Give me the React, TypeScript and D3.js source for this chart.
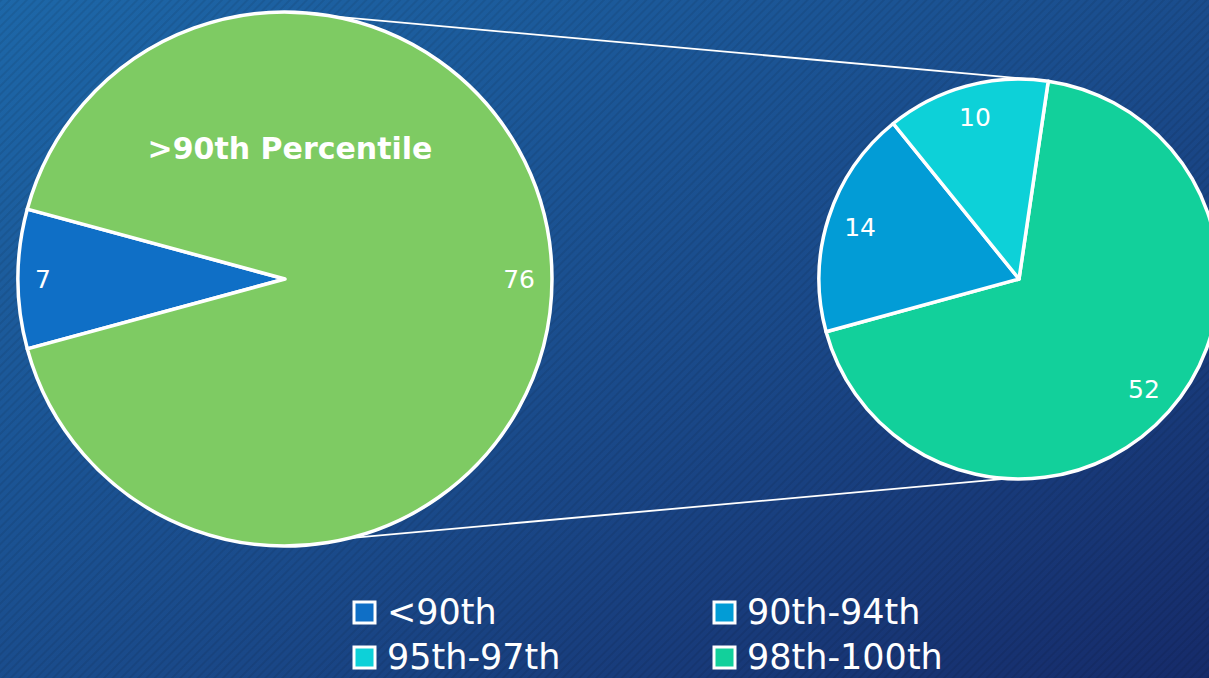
import * as d3 from "d3";

const primaryLabels = ["<90th", ">90th Percentile"];
const primaryValues = [7, 76];
const secondaryLabels = ["98th-100th", "90th-94th", "95th-97th"];
const secondaryValues = [52, 14, 10];
const legendLabels = ["<90th", "90th-94th", "95th-97th", "98th-100th"];
const legendColors = ["#0F6FC6", "#029CD6", "#0DD1D8", "#12D09B"];
const otherColor = "#7ECB63";

const W = 1209;
const H = 678;
const FONT = "'DejaVu Sans', Verdana, sans-serif";

const rad = (d: number) => (d * Math.PI) / 180;

export default function App() {
  const color = d3.scaleOrdinal<string, string>().domain(legendLabels).range(legendColors);

  // primary pie: small slice centered on the left
  const left = { cx: 285, cy: 279, r: 267 };
  const total1 = d3.sum(primaryValues);
  const start1 = (3 * Math.PI) / 2 - (primaryValues[0] / total1) * Math.PI;
  const pie1 = d3.pie<number>().sort(null).startAngle(start1).endAngle(start1 + 2 * Math.PI);
  const arcs1 = pie1(primaryValues);
  const arc1 = d3.arc<d3.PieArcDatum<number>>().innerRadius(0).outerRadius(left.r);
  const lab1 = d3.arc<d3.PieArcDatum<number>>().innerRadius(left.r - 17).outerRadius(left.r - 17);

  // secondary pie
  const right = { cx: 1019, cy: 279, r: 200 };
  const start2 = rad(8.4);
  const pie2 = d3.pie<number>().sort(null).startAngle(start2).endAngle(start2 + 2 * Math.PI);
  const arcs2 = pie2(secondaryValues);
  const arc2 = d3.arc<d3.PieArcDatum<number>>().innerRadius(0).outerRadius(right.r);
  const lab2 = d3.arc<d3.PieArcDatum<number>>().innerRadius(right.r * 0.835).outerRadius(right.r * 0.835);

  const onCircle = (c: { cx: number; cy: number; r: number }, deg: number) => [
    c.cx + c.r * Math.sin(rad(deg)),
    c.cy - c.r * Math.cos(rad(deg)),
  ];
  const connectors = [
    [onCircle(left, 10.3), onCircle(right, 6)],
    [onCircle(left, 166), onCircle(right, 183.4)],
  ];

  const legendPos = [
    [352, 612],
    [712, 612],
    [352, 657],
    [712, 657],
  ];

  return (
    <svg
      width={W}
      height={H}
      style={{ position: "fixed", left: 0, top: 0, display: "block" }}
      fontFamily={FONT}
    >
      <defs>
        <linearGradient id="bg" x1="0" y1="0" x2="1" y2="1">
          <stop offset="0" stopColor="#1D67A8" />
          <stop offset="0.55" stopColor="#1A4A8A" />
          <stop offset="1" stopColor="#162B6A" />
        </linearGradient>
        <pattern id="stripes" width="6" height="6" patternUnits="userSpaceOnUse" patternTransform="rotate(45)">
          <rect width="2" height="6" fill="#000" opacity="0.08" />
        </pattern>
      </defs>
      <rect width={W} height={H} fill="url(#bg)" />
      <rect width={W} height={H} fill="url(#stripes)" />

      {connectors.map((c, i) => (
        <line key={i} x1={c[0][0]} y1={c[0][1]} x2={c[1][0]} y2={c[1][1]} stroke="#fff" strokeWidth={1.8} />
      ))}

      <g transform={`translate(${left.cx},${left.cy})`}>
        {arcs1.map((a, i) => (
          <path
            key={i}
            d={arc1(a) || ""}
            fill={i === 0 ? color(primaryLabels[0]) : otherColor}
            stroke="#fff"
            strokeWidth={3.5}
            strokeLinejoin="round"
          />
        ))}
        {arcs1.map((a, i) => {
          const [x, y] = lab1.centroid(a);
          return (
            <text
              key={i}
              x={x}
              y={y}
              fill="#fff"
              fontSize={25}
              textAnchor={x < 0 ? "start" : "end"}
              dominantBaseline="central"
            >
              {a.data}
            </text>
          );
        })}
        <text x={5} y={-131} fill="#fff" fontSize={30} fontWeight="bold" textAnchor="middle" dominantBaseline="central">
          {primaryLabels[1]}
        </text>
      </g>

      <g transform={`translate(${right.cx},${right.cy})`}>
        {arcs2.map((a, i) => (
          <path
            key={i}
            d={arc2(a) || ""}
            fill={color(secondaryLabels[i])}
            stroke="#fff"
            strokeWidth={3.5}
            strokeLinejoin="round"
          />
        ))}
        {arcs2.map((a, i) => {
          const [x, y] = lab2.centroid(a);
          return (
            <text key={i} x={x} y={y} fill="#fff" fontSize={25} textAnchor="middle" dominantBaseline="central">
              {a.data}
            </text>
          );
        })}
      </g>

      {legendLabels.map((l, i) => (
        <g key={l} transform={`translate(${legendPos[i][0]},${legendPos[i][1]})`}>
          <rect x={2} y={-10} width={21} height={21} fill={color(l)} stroke="#fff" strokeWidth={3} />
          <text x={35} y={0} fill="#fff" fontSize={35} dominantBaseline="central">
            {l}
          </text>
        </g>
      ))}
    </svg>
  );
}
